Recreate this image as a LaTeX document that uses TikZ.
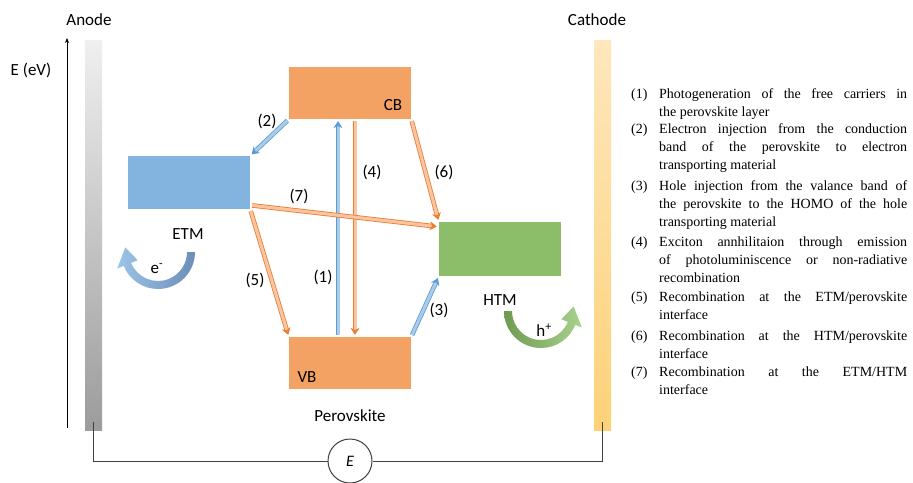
\documentclass[tikz,border=0pt]{standalone}
\usepackage{fontspec}
\setmainfont{Carlito}
\newfontfamily\legendfont{Liberation Serif}
\usetikzlibrary{arrows.meta,positioning}

\definecolor{etmblue}{RGB}{131,180,224}
\definecolor{pvkorange}{RGB}{243,162,99}
\definecolor{htmgreen}{RGB}{140,190,105}
\definecolor{arrblue}{RGB}{91,155,213}
\definecolor{arrbluefill}{RGB}{170,203,234}
\definecolor{arrorange}{RGB}{237,125,49}
\definecolor{arrorangefill}{RGB}{249,196,160}
\definecolor{elight}{RGB}{157,195,230}
\definecolor{edark}{RGB}{108,142,185}
\definecolor{hdark}{RGB}{110,155,80}
\definecolor{hlight}{RGB}{169,209,142}
\definecolor{cathtop}{RGB}{254,231,188}
\definecolor{cathbot}{RGB}{253,210,120}

% loose justified lines, no hyphens
\newcommand{\legsetup}{\tolerance=10000\relax\hyphenpenalty=10000\relax\strut}

\tikzset{
  band/.style={minimum width=122pt, minimum height=52pt, inner sep=0pt},
  electrode/.style={minimum width=17pt, minimum height=390pt, inner sep=0pt},
  lbl/.style={font=\fontsize{17}{20}\selectfont, inner sep=0pt},
  legnum/.style={anchor=north west, inner sep=0pt,
    font=\legendfont\fontsize{14}{18}\selectfont},
  legitem/.style={anchor=north west, inner sep=0pt, text width=248pt, align=justify,
    font=\legendfont\fontsize{14}{18}\selectfont},
  transfer/.style={line width=0.8pt, double distance=3pt, shorten <=2pt, shorten >=2pt,
    -{Stealth[length=7pt,width=9pt]}},
  bluearrow/.style={transfer, draw=arrblue, double=arrbluefill},
  orangearrow/.style={transfer, draw=arrorange, double=arrorangefill},
  wire/.style={draw=black!75, line width=1pt},
}

\begin{document}
\begin{tikzpicture}[x=1pt, y=-1pt]
  \useasboundingbox (0,0) rectangle (913,482);
  % Electrodes
  \node[electrode, top color=gray!12, bottom color=gray!78] (anode) at (93.5,235) {};
  \node[electrode, top color=cathtop, bottom color=cathbot] (cathode) at (602.5,235) {};
  \node[lbl] (anodelbl) at (89,20) {Anode};
  \node[lbl] (cathodelbl) at (597,20) {Cathode};
  % Energy axis
  \coordinate (ebot) at (67,428);
  \coordinate (etop) at (67,38);
  \draw[line width=0.8pt, -{Stealth[length=5pt,width=4pt]}] (ebot) -- (etop);
  \node[lbl] (elbl) at (31,70) {E (eV)};
  % Energy levels
  \node[band, fill=pvkorange] (cb) at (350,93) {};
  \node[band, fill=pvkorange] (vb) at (350,363) {};
  \node[band, fill=etmblue, minimum height=53pt] (etm) at (189,182.5) {};
  \node[band, fill=htmgreen, minimum height=54pt] (htm) at (500,249) {};
  \node[lbl] (cblbl) at (393,105) {CB};
  \node[lbl] (vblbl) at (307,377) {VB};
  \node[lbl] (etmlbl) at (188,234) {ETM};
  \node[lbl] (htmlbl) at (500,300) {HTM};
  \node[lbl] (pvklbl) at (350,416) {Perovskite};
  % Processes
  \draw[bluearrow] ([xshift=-12pt]vb.north) -- ([xshift=-12pt]cb.south);
  \draw[orangearrow] ([xshift=5pt]cb.south) -- ([xshift=5pt]vb.north);
  \draw[bluearrow] (cb.south west) -- (etm.north east);
  \draw[bluearrow] (vb.north east) -- (htm.south west);
  \draw[orangearrow] (etm.south east) -- (vb.north west);
  \draw[orangearrow] (cb.south east) -- (htm.north west);
  \draw[orangearrow] ([yshift=4pt]etm.south east) -- ([yshift=-5pt]htm.north west);
  \node[lbl] (p1) at (323,277) {(1)};
  \node[lbl] (p2) at (267,121) {(2)};
  \node[lbl] (p3) at (439,310) {(3)};
  \node[lbl] (p4) at (372,172) {(4)};
  \node[lbl] (p5) at (255,280) {(5)};
  \node[lbl] (p6) at (444,172) {(6)};
  \node[lbl] (p7) at (299,196) {(7)};
  % Carrier extraction
  \shade[left color=elight, right color=edark]
    ([shift={(158,252)}]0:37) arc[start angle=0, end angle=158, radius=37]
    -- ([shift={(158,252)}]158:44) -- ([shift={(158,252)}]188:33)
    -- ([shift={(158,252)}]158:22) -- ([shift={(158,252)}]158:29)
    arc[start angle=158, end angle=0, radius=29] -- cycle;
  \shade[left color=hdark, right color=hlight]
    ([shift={(541,311)}]180:37) arc[start angle=180, end angle=22, radius=37]
    -- ([shift={(541,311)}]22:44) -- ([shift={(541,311)}]-8:33)
    -- ([shift={(541,311)}]22:22) -- ([shift={(541,311)}]22:29)
    arc[start angle=22, end angle=180, radius=29] -- cycle;
  \node[lbl] (elec) at (157,269) {e\textsuperscript{-}};
  \node[lbl] (hole) at (544,330) {h\textsuperscript{+}};
  % External circuit
  \node[circle, draw=black!75, line width=1pt, minimum size=44pt, inner sep=0pt, fill=white,
    font=\itshape\fontsize{16}{19}\selectfont] (src) at (350,461) {E};
  \draw[wire] ([yshift=8pt]anode.south) |- (src.west);
  \draw[wire] (src.east) -| ([yshift=8pt]cathode.south);
  % Legend
  \node[legnum] (n1) at (631,86) {\strut(1)};
  \node[legnum] (n2) at (631,121) {\strut(2)};
  \node[legnum] (n3) at (631,178) {\strut(3)};
  \node[legnum] (n4) at (631,234) {\strut(4)};
  \node[legnum] (n5) at (631,289) {\strut(5)};
  \node[legnum] (n6) at (631,328) {\strut(6)};
  \node[legnum] (n7) at (631,364) {\strut(7)};
  \node[legitem] (leg1) at (659,86) {\legsetup Photogeneration of the free carriers in\linebreak the perovskite layer};
  \node[legitem] (leg2) at (659,121) {\legsetup Electron injection from the conduction\linebreak band of the perovskite to electron\linebreak transporting material};
  \node[legitem] (leg3) at (659,178) {\legsetup Hole injection from the valance band of\linebreak the perovskite to the HOMO of the hole\linebreak transporting material};
  \node[legitem] (leg4) at (659,234) {\legsetup Exciton annhilitaion through emission\linebreak of photoluminiscence or non-radiative\linebreak recombination};
  \node[legitem] (leg5) at (659,289) {\legsetup Recombination at the ETM/perovskite\linebreak interface};
  \node[legitem] (leg6) at (659,328) {\legsetup Recombination at the HTM/perovskite\linebreak interface};
  \node[legitem] (leg7) at (659,364) {\legsetup Recombination at the ETM/HTM\linebreak interface};
\end{tikzpicture}
\end{document}
